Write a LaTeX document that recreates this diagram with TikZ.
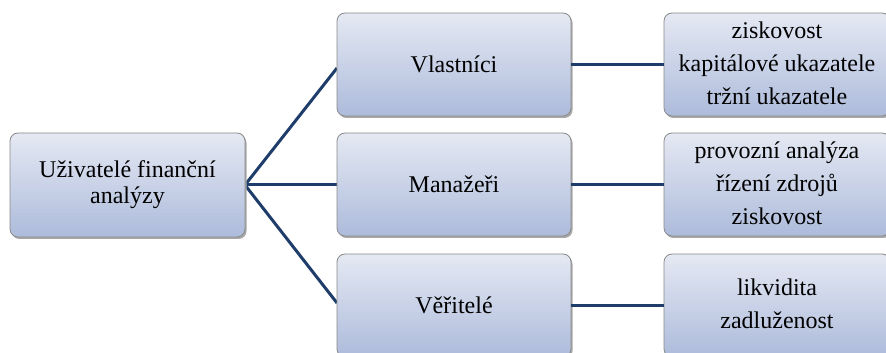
\documentclass[tikz,border=0pt]{standalone}
\usepackage{fontspec}
\setmainfont{Liberation Serif}
\definecolor{boxtop}{HTML}{E4E8F3}
\definecolor{boxbot}{HTML}{AEBCDB}
\definecolor{boxline}{HTML}{8A8A8A}
\definecolor{conn}{HTML}{1F3D6B}
\definecolor{shadowc}{HTML}{A8A8A8}
\newcommand\gradbox[4]{%
  \fill[shadowc, rounded corners=8pt] ({#1+1.5},{#2-2}) rectangle ({#3+1.5},{#4-2});
  \begin{scope}
    \clip[rounded corners=8pt] (#1,#2) rectangle (#3,#4);
    \foreach \i in {0,...,29}{
      \pgfmathsetmacro\pp{\i*100/29}
      \fill[boxtop!\pp!boxbot] (#1,{#2+\i*(#4-#2)/30}) rectangle (#3,{#2+(\i+1.2)*(#4-#2)/30});
    }
  \end{scope}}
\newcommand\lines[1]{\begin{tabular}{@{}c@{}}#1\end{tabular}}
\tikzset{
  sbox/.style={rounded corners=8pt, draw=boxline, line width=0.8pt,
    inner sep=0pt, font=\fontsize{24}{33}\selectfont},
  conline/.style={draw=conn, line width=3pt}
}
\begin{document}
\begin{tikzpicture}[x=1pt,y=1pt]
\useasboundingbox (0,0) rectangle (886,353);
\fill[white] (0,0) rectangle (886,353);
% connectors
\coordinate (hub) at (245,168);
\draw[conline] (hub) -- (337,285);
\draw[conline] (hub) -- (337,168);
\draw[conline] (hub) -- (337,50);
% box backgrounds
\gradbox{10}{116}{245}{220}
\gradbox{337}{237}{571}{340}
\gradbox{337}{117}{571}{220}
\gradbox{337}{-4}{571}{99}
\gradbox{664}{237}{890}{340}
\gradbox{664}{117}{890}{220}
\gradbox{664}{-4}{890}{99}
% nodes
\node[sbox, minimum width=235pt, minimum height=104pt, font=\fontsize{24}{26}\selectfont] (root) at (127.5,168) {\lines{Uživatelé finanční\\analýzy}};
\node[sbox, minimum width=234pt, minimum height=103pt] (vl) at (454,288.5) {Vlastníci};
\node[sbox, minimum width=234pt, minimum height=103pt] (ma) at (454,168.5) {Manažeři};
\node[sbox, minimum width=234pt, minimum height=103pt] (ve) at (454,47.5) {Věřitelé};
\node[sbox, minimum width=226pt, minimum height=103pt] (vlr) at (777,288.5) {\lines{ziskovost\\kapitálové ukazatele\\tržní ukazatele}};
\node[sbox, minimum width=226pt, minimum height=103pt] (mar) at (777,168.5) {\lines{provozní analýza\\řízení zdrojů\\ziskovost}};
\node[sbox, minimum width=226pt, minimum height=103pt] (ver) at (777,47.5) {\lines{likvidita\\zadluženost}};
\draw[conline] (vl.east) -- (vlr.west);
\draw[conline] (ma.east) -- (mar.west);
\draw[conline] (ve.east) -- (ver.west);
\end{tikzpicture}
\end{document}
